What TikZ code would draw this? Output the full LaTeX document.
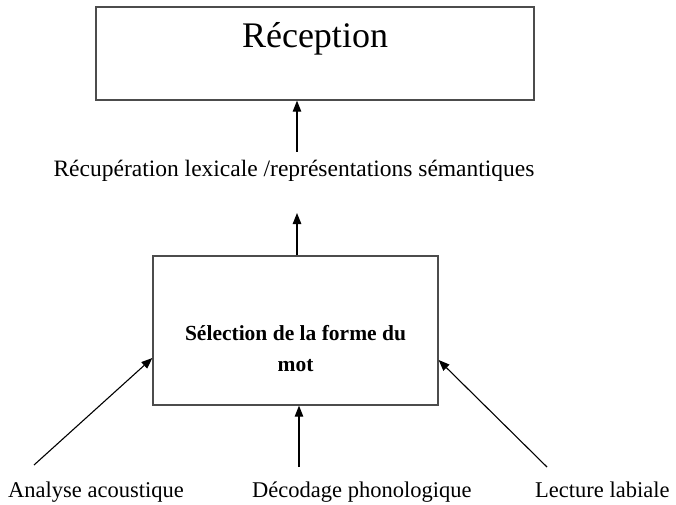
\documentclass[tikz,border=0pt]{standalone}
\usepackage{fontspec}
\setmainfont{Liberation Serif}
\usetikzlibrary{arrows.meta, positioning, calc}

\begin{document}
\begin{tikzpicture}[x=1pt, y=1pt,
        bigbox/.style={rectangle, draw=black!70, line width=1.3pt, inner sep=0pt, minimum width=438pt, font=\fontsize{36}{40}\selectfont, text height=41pt, text depth=52pt},
        selbox/.style={rectangle, draw=black!70, line width=1.3pt, inner sep=0pt, minimum width=285pt, align=center, font=\bfseries\fontsize{21.5}{31}\selectfont, text height=115pt, text depth=34pt},
        lbl/.style={inner sep=0pt, font=\fontsize{23.5}{27}\selectfont},
        inlbl/.style={inner sep=0pt, font=\fontsize{22.5}{26}\selectfont},
        arrow/.style={-{Triangle[length=11pt, width=8.5pt]}, line width=1.1pt}]
        \useasboundingbox (0,0) rectangle (676,504);

        % Nodes
        \node[bigbox] (reception) at (315,450.5) {Réception};
        \node[lbl, anchor=base] (lexical) at (294,327) {Récupération lexicale /représentations sémantiques};
        \node[selbox] (selection) at (295.5,173.5) {Sélection de la forme du\\ mot};

        % Inputs
        \node[inlbl, anchor=base west] (acoustic) at (8,7) {Analyse acoustique};
        \node[inlbl, anchor=base west] (phono) at (252,7) {Décodage phonologique};
        \node[inlbl, anchor=base west] (labial) at (535,7) {Lecture labiale};
        \coordinate (acoustic-in) at (34,39);
        \coordinate (phono-in) at (299,37);
        \coordinate (labial-in) at (547,37);
        \coordinate (lex-up) at (297,352);
        \coordinate (sel-up) at (297,291);

        % Arrows
        \draw[arrow] (lex-up) -- (lex-up |- reception.south);
        \draw[arrow] (selection.north -| sel-up) -- (sel-up);
        \draw[arrow] (acoustic-in) -- ([yshift=-27.5pt]selection.west);
        \draw[arrow] (phono-in) -- (phono-in |- selection.south);
        \draw[arrow] (labial-in) -- ([yshift=-29.5pt]selection.east);

    \end{tikzpicture}
\end{document}
